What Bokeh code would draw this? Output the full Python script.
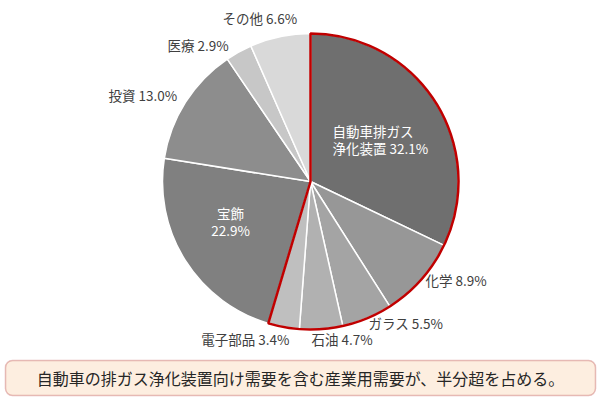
import math
from bokeh.plotting import figure
from bokeh.models import Range1d, ColumnDataSource, BoxAnnotation
from bokeh.core.properties import value
from bokeh.embed import file_html
from bokeh.resources import INLINE

# ---- data ----
categories = ["自動車排ガス\n浄化装置", "化学", "ガラス", "石油", "電子部品", "宝飾", "投資", "医療", "その他"]
shares = [32.1, 8.9, 5.5, 4.7, 3.4, 22.9, 13.0, 2.9, 6.6]
industrial_count = 5  # first five slices = industrial demand
slice_colors = ["#6f6f6f", "#979797", "#a4a4a4", "#b1b1b1", "#bfbfbf", "#808080", "#8d8d8d", "#c7c7c7", "#d9d9d9"]
caption = "自動車の排ガス浄化装置向け需要を含む産業用需要が、半分超を占める。"

# ---- layout (image pixel coordinates; y measured from top) ----
W, H = 600, 399
CX, CY, R = 310, 181, 148
FONT = "Noto Sans CJK JP"

def fy(y_img):
    return H - y_img

# label anchor points (image px) and styles
label_layout = [
    dict(x=332, y=139, align="left", color="white", inside=True),
    dict(x=425, y=279, align="left", color="#404040", inside=False),
    dict(x=368, y=322, align="left", color="#404040", inside=False),
    dict(x=311, y=338, align="left", color="#404040", inside=False),
    dict(x=289, y=338, align="right", color="#404040", inside=False),
    dict(x=230, y=221, align="center", color="white", inside=True),
    dict(x=108, y=94, align="left", color="#404040", inside=False),
    dict(x=167, y=44, align="left", color="#404040", inside=False),
    dict(x=222, y=17, align="left", color="#404040", inside=False),
]

p = figure(width=W, height=H, output_backend="svg", toolbar_location=None,
           x_range=Range1d(0, W), y_range=Range1d(0, H),
           min_border=0, outline_line_color=None, background_fill_color="white")
p.axis.visible = False
p.grid.visible = False

# angles: start at 12 o'clock, go clockwise
total = sum(shares)
starts, ends = [], []
cum = 0.0
for s in shares:
    a0 = math.pi / 2 - 2 * math.pi * cum / total
    cum += s
    a1 = math.pi / 2 - 2 * math.pi * cum / total
    starts.append(a0)
    ends.append(a1)

src = ColumnDataSource(dict(x=[CX] * len(shares), y=[fy(CY)] * len(shares),
                            start=starts, end=ends, color=slice_colors))
p.wedge(x="x", y="y", radius=R, start_angle="start", end_angle="end", direction="clock",
        fill_color="color", line_color="white", line_width=1.5, source=src)

# red outline around industrial group
p.wedge(x=[CX], y=[fy(CY)], radius=R, start_angle=[starts[0]], end_angle=[ends[industrial_count - 1]],
        direction="clock", fill_alpha=0, line_color="#c00000", line_width=2.5)

# labels
for cat, s, lay in zip(categories, shares, label_layout):
    lines = cat.split("\n")
    pct = f"{s:.1f}%"
    if lay["inside"] and len(lines) == 1:
        texts = [lines[0], pct]
    elif len(lines) > 1:
        texts = lines[:-1] + [lines[-1] + " " + pct]
    else:
        texts = [lines[0] + " " + pct]
    n = len(texts)
    step = 17
    for i, t in enumerate(texts):
        yy = lay["y"] - (n - 1) * step / 2 + i * step
        p.text(x=[lay["x"]], y=[fy(yy)], text=[t], text_font=value(FONT), text_font_size="13.5px",
               text_color=lay["color"], text_align=lay["align"], text_baseline="middle")

# caption box
box = BoxAnnotation(left=5, right=595, top=fy(360), bottom=fy(395), fill_color="#fdeee0", fill_alpha=1,
                    line_color="#b02a2a", line_width=1.5, border_radius=7, level="underlay")
p.add_layout(box)
p.text(x=[300], y=[fy(377)], text=[caption], text_font=value(FONT), text_font_size="16px",
       text_color="#262626", text_align="center", text_baseline="middle")

open("out.html", "w").write(file_html(p, INLINE))
